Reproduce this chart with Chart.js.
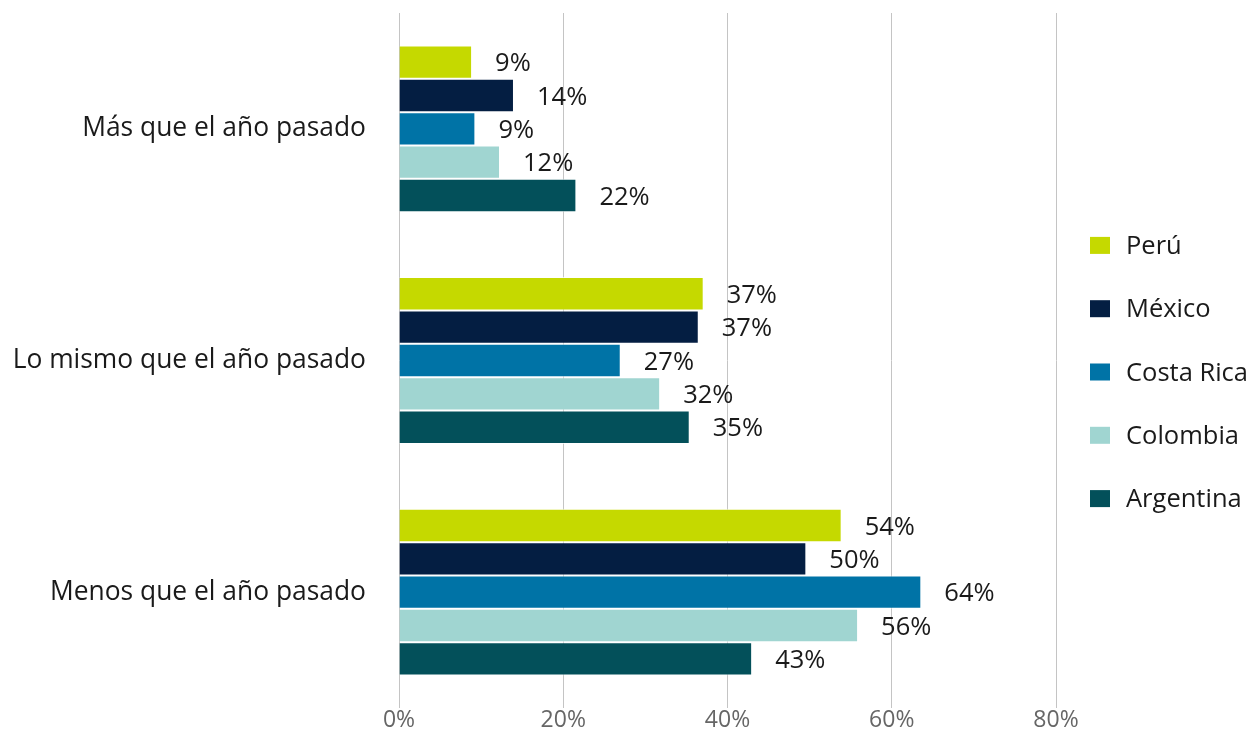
<!DOCTYPE html>
<html>
<head>
<meta charset="utf-8">
<script src="https://cdn.jsdelivr.net/npm/chart.js@4"></script>
<style>
html,body{margin:0;padding:0;background:#fff;}
#wrap{width:1256px;height:729px;position:relative;}
</style>
</head>
<body>
<div id="wrap"><canvas id="c" width="1256" height="729"></canvas></div>
<script>
const categories = ["Más que el año pasado", "Lo mismo que el año pasado", "Menos que el año pasado"];
const seriesNames = ["Perú", "México", "Costa Rica", "Colombia", "Argentina"];
const peru = [8.9, 37.1, 53.9];
const mexico = [14.0, 36.5, 49.6];
const costaRica = [9.3, 27.0, 63.6];
const colombia = [12.3, 31.8, 55.9];
const argentina = [21.6, 35.4, 43.0];
const xTicks = [0, 20, 40, 60, 80];
const colors = ["#c5d900", "#041e42", "#0073a6", "#a0d5d1", "#03505a"];

const FONT = "'Open Sans', 'Noto Sans', sans-serif";
const seriesData = [peru, mexico, costaRica, colombia, argentina];

const valueLabels = {
  id: 'valueLabels',
  afterDatasetsDraw(chart) {
    const ctx = chart.ctx;
    ctx.save();
    ctx.font = "25.5px " + FONT;
    ctx.fillStyle = "#1a1a1a";
    ctx.textAlign = "left";
    ctx.textBaseline = "middle";
    chart.data.datasets.forEach((ds, i) => {
      const meta = chart.getDatasetMeta(i);
      meta.data.forEach((bar, j) => {
        ctx.fillText(Math.round(ds.data[j]) + "%", bar.x + 23, bar.y + 2);
      });
    });
    ctx.restore();
  }
};

const sideLegend = {
  id: 'sideLegend',
  afterDraw(chart) {
    const ctx = chart.ctx;
    ctx.save();
    ctx.font = "25.5px " + FONT;
    ctx.textAlign = "left";
    ctx.textBaseline = "middle";
    const x0 = chart.chartArea.right + 34;
    const yMid = (chart.chartArea.top + chart.chartArea.bottom) / 2 + 11;
    const step = 63.3;
    chart.data.datasets.forEach((ds, i) => {
      const y = yMid + (i - 2) * step;
      ctx.fillStyle = ds.backgroundColor;
      ctx.fillRect(x0, y - 8, 20, 17);
      ctx.fillStyle = "#1a1a1a";
      ctx.fillText(ds.label, x0 + 36, y + 2);
    });
    ctx.restore();
  }
};

new Chart(document.getElementById('c'), {
  type: 'bar',
  data: {
    labels: categories,
    datasets: seriesNames.map((n, i) => ({
      label: n,
      data: seriesData[i],
      backgroundColor: colors[i],
      borderColor: 'rgba(255,255,255,0.7)',
      borderWidth: 1,
      categoryPercentage: 0.72,
      barPercentage: 1.0
    }))
  },
  options: {
    indexAxis: 'y',
    responsive: false,
    animation: false,
    layout: { padding: { top: 13, right: 200, bottom: 0, left: 0 } },
    plugins: { legend: { display: false }, tooltip: { enabled: false } },
    scales: {
      x: {
        min: 0, max: 80,
        afterBuildTicks(scale) { scale.ticks = xTicks.map(v => ({ value: v })); },
        afterFit(scale) { scale.height = 21; scale.paddingLeft = 0; scale.paddingRight = 0; },
        grid: { color: '#c4c4c4', lineWidth: 1, drawTicks: false },
        border: { display: false },
        ticks: {
          padding: -1,
          font: { family: FONT, size: 23 },
          color: '#666666',
          callback: v => v + '%'
        }
      },
      y: {
        afterFit(scale) { scale.width = 399; scale.paddingTop = 0; scale.paddingBottom = 0; },
        grid: { display: false, drawTicks: false },
        border: { display: false },
        ticks: {
          padding: 33,
          font: { family: FONT, size: 26.4 },
          color: '#1a1a1a'
        }
      }
    }
  },
  plugins: [valueLabels, sideLegend]
});
</script>
</body>
</html>
